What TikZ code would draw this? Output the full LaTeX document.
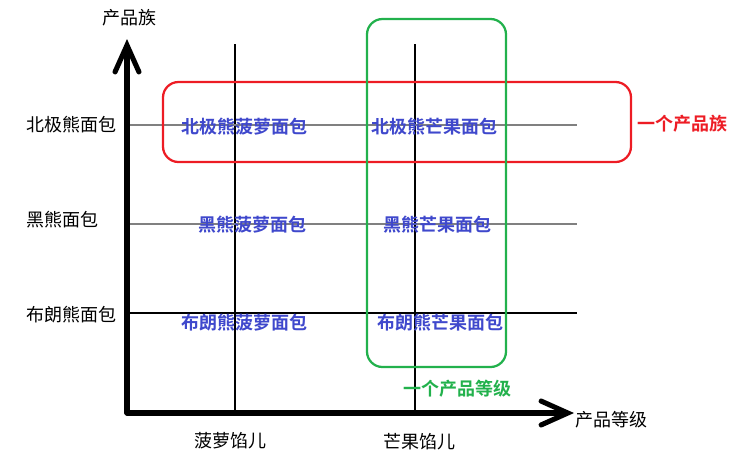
\documentclass[tikz,border=0pt]{standalone}
\usepackage{fontspec}
\setmainfont{Noto Sans CJK SC}[BoldFont={Noto Sans CJK SC Bold}]
\usepackage{tikz}
\usetikzlibrary{
    arrows.meta,
    positioning,
    calc
}

\definecolor{cellColor}{RGB}{63,72,204}
\definecolor{familyColor}{RGB}{237,28,36}
\definecolor{levelColor}{RGB}{34,177,76}

\tikzset{
    lbl/.style={font=\fontsize{12.8}{15}\selectfont, inner sep=0pt},
    cell/.style={lbl, cellColor, font=\fontsize{12.8}{15}\selectfont\bfseries},
    axis/.style={line width=3.6pt, line cap=round, -{Straight Barb[length=19pt,width=17pt,line cap=round]}},
    grid/.style={line width=0.8pt},
    groupbox/.style={line width=1.6pt, rounded corners=11pt}
}

\begin{document}
\begin{tikzpicture}[x=0.025cm, y=-0.025cm]
\useasboundingbox (0,0) rectangle (735,470);

% Axes
\coordinate (O) at (127,413);
\coordinate (yend) at (127,39);
\coordinate (xend) at (574,413);

% Vertical grid
\foreach \x/\n in {235/a, 415/b} {
    \draw[grid, black] (\x,44) -- (\x,413);
}
% Horizontal grid
\draw[grid, gray] (130,125) -- (577,125);
\draw[grid, gray] (130,224) -- (577,224);
\draw[grid, black] (130,313) -- (577,313);

\draw[axis] (O) -- (yend);
\draw[axis] (O) -- (xend);
\node[lbl] (ylbl) at (129,18) {产品族};
\node[lbl, anchor=west] (xlbl) at (575,420) {产品等级};

% Row labels
\foreach \y/\t/\n in {125/北极熊面包/r1, 220/黑熊面包/r2, 315/布朗熊面包/r3} {
    \node[lbl, anchor=west] (\n) at (26,\y) {\t};
}
% Column labels
\node[lbl] (c1) at (230,441) {菠萝馅儿};
\node[lbl] (c2) at (419,442) {芒果馅儿};

% Cells
\node[cell] (p1) at (244,127) {北极熊菠萝面包};
\node[cell] (m1) at (434,127) {北极熊芒果面包};
\node[cell] (p2) at (252,225) {黑熊菠萝面包};
\node[cell] (m2) at (437,225) {黑熊芒果面包};
\node[cell] (p3) at (244,323) {布朗熊菠萝面包};
\node[cell] (m3) at (440,323) {布朗熊芒果面包};

% Product family box
\draw[groupbox, familyColor] (163,82) rectangle (631,162);
\node[cell, familyColor, anchor=west] (fam) at (637,124) {一个产品族};

% Product level box
\draw[groupbox, levelColor] (367,19) rectangle (506,367);
\node[cell, levelColor] (lvl) at (457,389) {一个产品等级};

\end{tikzpicture}
\end{document}
